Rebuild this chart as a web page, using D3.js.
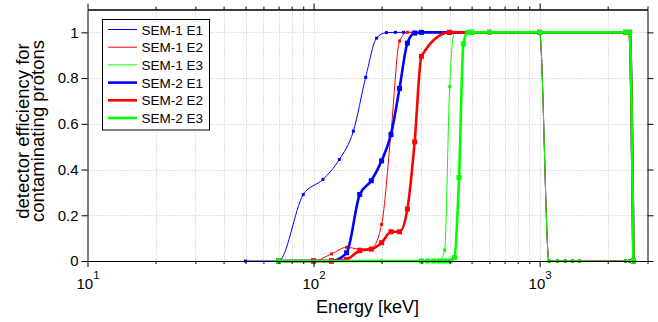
<!DOCTYPE html>
<html lang="en">
  <head>
    <meta charset="utf-8">
    <title>Detector efficiency for contaminating protons</title>
    <script src="https://cdn.jsdelivr.net/npm/d3@7"></script>
    <style>
      body { margin: 0; background: #fff; }
      svg { display: block; font-family: "Liberation Sans", Arial, Helvetica, sans-serif; }
      .grid line { stroke: #c4c4c4; stroke-width: 1; stroke-dasharray: 1,2; }
      .axis path, .axis line { stroke: #000; }
    </style>
  </head>
  <body>
    <div id="chart"></div>
<script>

// ---- data (energy in keV, efficiency 0..1) ----
var sem1E1Energy = [50, 70, 90, 110, 130, 150, 170, 190, 210, 230, 250, 300, 400, 500, 600, 1000, 1100, 1200, 1300, 1400, 1500, 2400, 2500];
var sem1E1Eff    = [0, 0, 0.29, 0.357, 0.444, 0.568, 0.803, 0.975, 0.999, 1, 1, 1, 1, 1, 1, 1, 0, 0, 0, 0, 0, 0, 0];

var sem1E2Energy = [70, 100, 120, 140, 160, 180, 200, 220, 240, 260, 280, 300, 400, 500, 600, 1000, 1100, 1200, 1300, 1400, 1500, 2400, 2500];
var sem1E2Eff    = [0, 0, 0.031, 0.06, 0.052, 0.055, 0.16, 0.56, 0.962, 1, 1, 1, 1, 1, 1, 1, 0, 0, 0, 0, 0, 0, 0];

var sem1E3Energy = [70, 100, 200, 300, 320, 340, 360, 380, 400, 420, 440, 460, 480, 500, 600, 1000, 1100, 1200, 1300, 1400, 1500, 2400, 2500];
var sem1E3Eff    = [0, 0, 0, 0, 0, 0, 0, 0.048, 0.763, 1, 1, 1, 1, 1, 1, 1, 0, 0, 0, 0, 0, 0, 0];

var sem2E1Energy = [70, 100, 120, 140, 160, 180, 200, 220, 240, 260, 280, 300, 400, 500, 600, 1000, 2400, 2500, 2600];
var sem2E1Eff    = [0, 0, 0, 0.036, 0.291, 0.351, 0.438, 0.553, 0.755, 0.953, 0.997, 1, 1, 1, 1, 1, 1, 1, 0];

var sem2E2Energy = [70, 100, 120, 140, 160, 180, 200, 220, 240, 260, 280, 300, 400, 500, 600, 1000, 2400, 2500, 2600];
var sem2E2Eff    = [0, 0, 0, 0.007, 0.045, 0.052, 0.08, 0.128, 0.128, 0.227, 0.521, 0.895, 1, 1, 1, 1, 1, 1, 0];

var sem2E3Energy = [70, 300, 320, 340, 360, 380, 400, 420, 440, 460, 480, 500, 600, 1000, 2400, 2500, 2600];
var sem2E3Eff    = [0, 0, 0, 0, 0, 0, 0, 0.015, 0.365, 0.95, 1, 1, 1, 1, 1, 1, 0];

var seriesNames  = ["SEM-1 E1", "SEM-1 E2", "SEM-1 E3", "SEM-2 E1", "SEM-2 E2", "SEM-2 E3"];
var xMajorTicks  = [10, 100, 1000];
var yTicks       = [0, 0.2, 0.4, 0.6, 0.8, 1];

var series = [
	{name: seriesNames[0], energy: sem1E1Energy, eff: sem1E1Eff, color: "#0000ff", thick: false},
	{name: seriesNames[1], energy: sem1E2Energy, eff: sem1E2Eff, color: "#ff0000", thick: false},
	{name: seriesNames[2], energy: sem1E3Energy, eff: sem1E3Eff, color: "#00ff00", thick: false},
	{name: seriesNames[3], energy: sem2E1Energy, eff: sem2E1Eff, color: "#0000ff", thick: true},
	{name: seriesNames[4], energy: sem2E2Energy, eff: sem2E2Eff, color: "#ff0000", thick: true},
	{name: seriesNames[5], energy: sem2E3Energy, eff: sem2E3Eff, color: "#00ff00", thick: true}
];

var width = 658, height = 322;
var plotLeft = 87.5, plotRight = 647.5, plotTop = 9.5, plotBottom = 261;

var svg = d3.select("#chart").append("svg")
	.attr("width", width)
	.attr("height", height);

var x = d3.scaleLog().domain([10, 3000]).range([plotLeft, plotRight]);
var y = d3.scaleLinear().domain([0, 1.1]).range([plotBottom, plotTop]);

// grid (dotted, major + minor on x)
var grid = svg.append("g").attr("class", "grid");
grid.selectAll(".vx")
	.data(x.ticks().filter(function(d) { return d > 10 && d < 3000; }))
	.enter().append("line")
	.attr("x1", function(d) { return Math.round(x(d)) + 0.5; })
	.attr("x2", function(d) { return Math.round(x(d)) + 0.5; })
	.attr("y1", plotTop).attr("y2", plotBottom);
grid.selectAll(".hy")
	.data(yTicks.filter(function(d) { return d > 0; }))
	.enter().append("line")
	.attr("x1", plotLeft).attr("x2", plotRight)
	.attr("y1", function(d) { return Math.round(y(d)) + 0.5; })
	.attr("y2", function(d) { return Math.round(y(d)) + 0.5; });

// curves
var line = d3.line()
	.x(function(d) { return x(d[0]); })
	.y(function(d) { return y(d[1]); })
	.curve(d3.curveMonotoneX);

var plot = svg.append("g");
series.forEach(function(s) {
	var pts = s.energy.map(function(e, i) { return [e, s.eff[i]]; });
	plot.append("path")
		.datum(pts)
		.attr("fill", "none")
		.attr("stroke", s.color)
		.attr("stroke-width", s.thick ? 2.6 : 1)
		.attr("stroke-linejoin", "round")
		.attr("d", line);
	var m = s.thick ? 5 : 3;
	plot.selectAll(null)
		.data(pts)
		.enter().append("rect")
		.attr("x", function(d) { return x(d[0]) - m / 2; })
		.attr("y", function(d) { return y(d[1]) - m / 2; })
		.attr("width", m).attr("height", m)
		.attr("fill", s.color);
});

// axes, ticks outward on all four sides
function supLabel(sel) {
	sel.selectAll(".tick text").each(function(d) {
		var t = d3.select(this).text(null).attr("y", 27.5).attr("dy", null);
		t.append("tspan").text("10");
		t.append("tspan").attr("dy", -9.5).attr("font-size", 11.5).text(Math.round(Math.log10(d)));
	});
}

var minorTicks = x.ticks().filter(function(d) { return xMajorTicks.indexOf(d) < 0; });

svg.append("g").attr("class", "axis")
	.attr("transform", "translate(0," + plotBottom + ")")
	.call(d3.axisBottom(x).tickValues(xMajorTicks).tickSize(6).tickSizeOuter(0).tickFormat(""))
	.call(supLabel)
	.attr("font-size", 15).attr("font-family", null);
svg.append("g").attr("class", "axis")
	.attr("transform", "translate(0," + plotBottom + ")")
	.call(d3.axisBottom(x).tickValues(minorTicks).tickSize(3).tickSizeOuter(0).tickFormat(""));
svg.append("g").attr("class", "axis")
	.attr("transform", "translate(0," + plotTop + ")")
	.call(d3.axisTop(x).tickValues(xMajorTicks).tickSize(6).tickSizeOuter(0).tickFormat(""));
svg.append("g").attr("class", "axis")
	.attr("transform", "translate(0," + plotTop + ")")
	.call(d3.axisTop(x).tickValues(minorTicks).tickSize(3).tickSizeOuter(0).tickFormat(""));
svg.append("g").attr("class", "axis")
	.attr("transform", "translate(" + plotLeft + ",0)")
	.call(d3.axisLeft(y).tickValues(yTicks).tickSize(6).tickSizeOuter(0).tickFormat(d3.format(".1~f")))
	.attr("font-size", 15).attr("font-family", null);
svg.append("g").attr("class", "axis")
	.attr("transform", "translate(" + plotRight + ",0)")
	.call(d3.axisRight(y).tickValues(yTicks).tickSize(6).tickSizeOuter(0).tickFormat(""));
svg.selectAll(".axis .tick text").attr("fill", "#000");

// axis labels
svg.append("text")
	.attr("x", (plotLeft + plotRight) / 2).attr("y", 313)
	.attr("text-anchor", "middle")
	.attr("font-size", 18)
	.text("Energy [keV]");

var ylab = svg.append("text")
	.attr("transform", "translate(29,131) rotate(-90)")
	.attr("text-anchor", "middle")
	.attr("font-size", 18.5);
ylab.append("tspan").attr("x", 0).attr("y", 0).text("detector efficiency for");
ylab.append("tspan").attr("x", 0).attr("y", 14.5).text("contaminating protons");

// legend
var legend = svg.append("g");
legend.append("rect")
	.attr("x", 102.5).attr("y", 19.5).attr("width", 107).attr("height", 110.5)
	.attr("fill", "#fff").attr("stroke", "#000");
series.forEach(function(s, i) {
	var ly = 29.5 + i * 17.7;
	legend.append("line")
		.attr("x1", 108).attr("x2", 137).attr("y1", ly).attr("y2", ly)
		.attr("stroke", s.color).attr("stroke-width", s.thick ? 2.6 : 1);
	legend.append("text")
		.attr("x", 141.5).attr("y", ly + 5)
		.attr("font-size", 13.5)
		.text(s.name);
});

</script>
  </body>
</html>
